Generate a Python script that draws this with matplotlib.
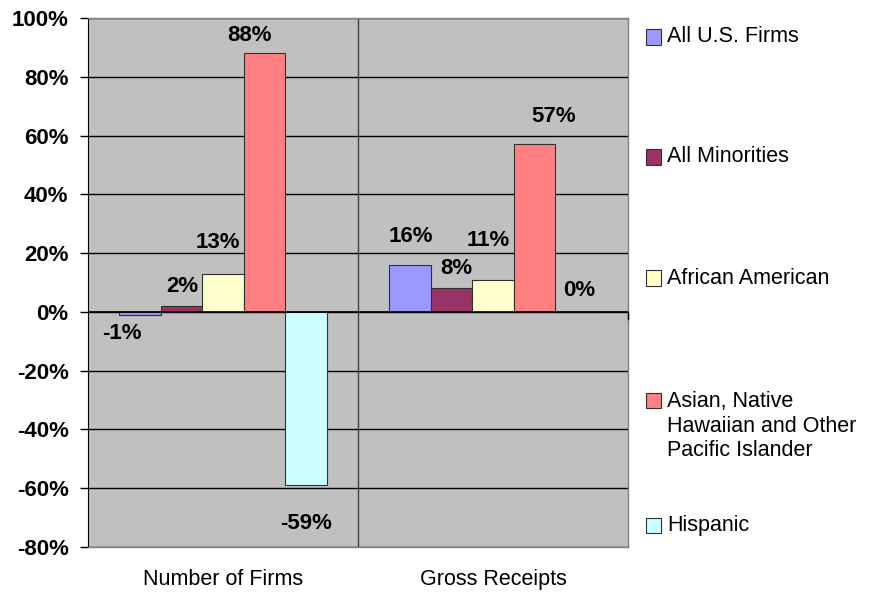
import matplotlib
matplotlib.use("Agg")
import matplotlib.pyplot as plt
from matplotlib.patches import Rectangle
import numpy as np

plt.rcParams['font.family'] = ['Liberation Sans', 'DejaVu Sans']

categories = ["Number of Firms", "Gross Receipts"]
series = ["All U.S. Firms", "All Minorities", "African American",
          "Asian, Native\nHawaiian and Other\nPacific Islander", "Hispanic"]
firms = [-1, 2, 13, 88, -59]
receipts = [16, 8, 11, 57, 0]
colors = ["#9999FF", "#993366", "#FFFFCC", "#FF8080", "#CCFFFF"]

# label nudges in pixels (dx, dy) from the bar end, like the excel layout
label_offsets = [[(-18, -19), (1, 20), (-5, 31), (-15, 18), (0, -38)],
                 [(1, 28), (5, 20), (-5, 39), (19, 28), (3, 21)]]

W, H = 871, 594
fig = plt.figure(figsize=(W / 100, H / 100), dpi=100)
ax = fig.add_axes([88 / W, 47 / H, 540 / W, 529 / H])
ax.set_facecolor("#C0C0C0")

values = np.array([firms, receipts])
x = np.arange(len(categories))
bw = 1 / 6.5
for i, name in enumerate(series):
    pos = x + (i - 2) * bw
    ax.bar(pos, values[:, i] / 100, bw, color=colors[i], edgecolor="#303030",
           linewidth=0.8, zorder=3)
    for j in range(len(categories)):
        v = values[j, i]
        dx, dy = label_offsets[j][i]
        ax.annotate(f"{v}%", (pos[j], v / 100), xytext=(dx * 0.72, dy * 0.72),
                    textcoords="offset points", ha="center", va="center",
                    fontsize=16, fontweight="bold", zorder=5)

ax.set_xlim(-0.5, 1.5)
ax.set_ylim(-0.8, 1.0)
yt = np.arange(-0.8, 1.01, 0.2)
ax.set_yticks(yt)
ax.set_yticklabels([f"{round(t * 100)}%" for t in yt], fontsize=16, fontweight="bold")
ax.yaxis.grid(True, color="black", linewidth=1, zorder=1)
ax.set_axisbelow(True)
ax.axhline(0, color="black", linewidth=1.2, zorder=4)
ax.axvline(0.5, color="#404040", linewidth=1, zorder=2)
ax.plot([1.5, 1.5], [0, -0.025], color="black", linewidth=1, clip_on=False, zorder=4)

ax.set_xticks(x)
ax.set_xticklabels(categories, fontsize=15.5)
ax.tick_params(axis="x", length=0, pad=16)
ax.tick_params(axis="y", length=6, width=1, pad=8)
for s in ["top", "right", "bottom"]:
    ax.spines[s].set_color("#808080")
    ax.spines[s].set_linewidth(1)
ax.spines["left"].set_color("black")

# legend drawn by hand to follow the uneven spacing
leg_y = [37, 157, 278, 400, 525]
for i, name in enumerate(series):
    yc = leg_y[i]
    fig.patches.append(Rectangle((646 / W, 1 - (yc + 7.5) / H), 15 / W, 15 / H,
                                 transform=fig.transFigure, facecolor=colors[i],
                                 edgecolor="#303030", linewidth=0.8))
    n = name.count("\n")
    fig.text(667 / W, 1 - (yc + n * 13) / H, name, fontsize=15.5,
             ha="left", va="center", linespacing=1.2)

fig.savefig("out.png", dpi=100)
